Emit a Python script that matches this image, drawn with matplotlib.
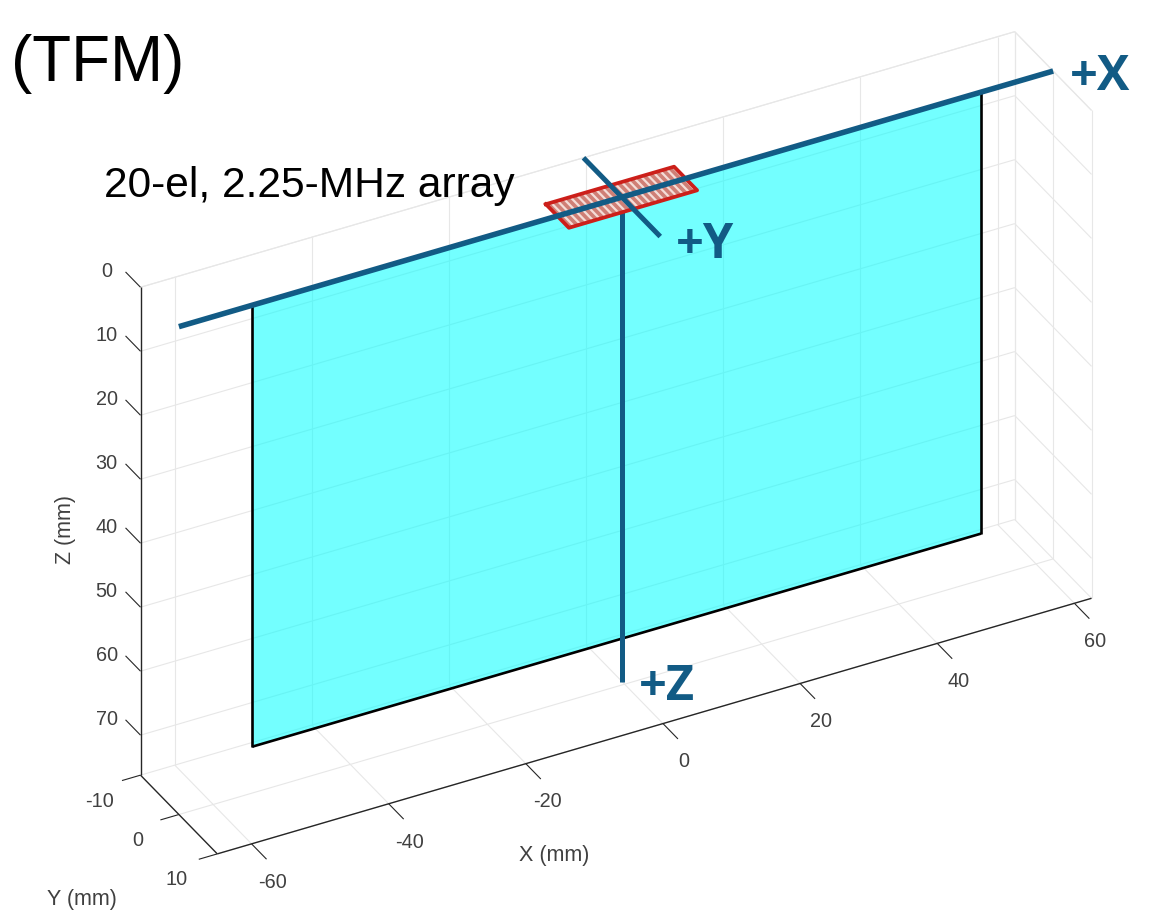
import numpy as np
import matplotlib
matplotlib.use('Agg')
import matplotlib.pyplot as plt
from mpl_toolkits.mplot3d import proj3d
from mpl_toolkits.mplot3d.art3d import Poly3DCollection

plt.rcParams['font.family'] = ['Liberation Sans', 'DejaVu Sans']

# axis limits and ticks (mm)
x_lim = [-65, 62.5]
y_lim = [-10, 10]
z_lim = [0, 76.25]
x_ticks = [-60, -40, -20, 0, 20, 40, 60]
y_ticks = [-10, 0, 10]
z_ticks = [0, 10, 20, 30, 40, 50, 60, 70]

# imaged plane
plane_x = [-54.3, 52]
plane_y = 0
plane_z = [0, 69]

# probe axes lines
center_x = -0.4
z_line_end = 75.8

# array footprint
n_elements = 20
array_x = [-9.8, 8.9]
array_y = [-3, 3]

grid_col = '#E7E7E7'
axis_col = '#262626'
tick_col = '#404040'
blue = '#125B85'

W, H = 1168, 910
fig = plt.figure(figsize=(W / 100, H / 100), dpi=100)

# orthographic view fitted to the box: sizes are in pixels along each axis
box = (991, 163, 583)
zoom = 0.8
side = 1127.4 / zoom
cx, cy = 616.0, 910 - 442.8
left = cx - 0.5135 * side
bottom = cy - 0.5135 * side
ax = fig.add_axes([left / W, bottom / H, side / W, side / H], projection='3d',
                  proj_type='ortho', computed_zorder=False)
ax.set_box_aspect(box, zoom=zoom)
ax.view_init(elev=33.2, azim=-118.1)
ax.set_axis_off()
ax.patch.set_alpha(0)
ax.set_xlim(x_lim)
ax.set_ylim(y_lim[1], y_lim[0])
ax.set_zlim(z_lim[1], z_lim[0])


def line3(xs, ys, zs, color, lw, zorder=1):
    ax.plot(xs, ys, zs, color=color, lw=lw, zorder=zorder, solid_capstyle='butt')


def label3(x, y, z, s):
    # project by hand so the tick label is plain 2D text
    px, py, _ = proj3d.proj_transform(x, y, z, ax.get_proj())
    ax.text2D(px, py, s, transform=ax.transData, color=tick_col, fontsize=14.3,
              ha='center', va='center')


# grid on back wall (y min)
for x in x_ticks + [x_lim[1]]:
    line3([x, x], [y_lim[0]] * 2, z_lim, grid_col, 0.8)
for z in z_ticks:
    line3(x_lim, [y_lim[0]] * 2, [z, z], grid_col, 0.8)
# grid on right wall (x max)
for y in y_ticks:
    line3([x_lim[1]] * 2, [y, y], z_lim, grid_col, 0.8)
for z in z_ticks:
    line3([x_lim[1]] * 2, y_lim, [z, z], grid_col, 0.8)
# grid on floor
for x in x_ticks + [x_lim[1]]:
    line3([x, x], y_lim, [z_lim[1]] * 2, grid_col, 0.8)
for y in y_ticks:
    line3(x_lim, [y, y], [z_lim[1]] * 2, grid_col, 0.8)
# top edges of the box
line3(x_lim, [y_lim[0]] * 2, [z_lim[0]] * 2, grid_col, 0.8)
line3([x_lim[1]] * 2, y_lim, [z_lim[0]] * 2, grid_col, 0.8)

# axes lines
line3([x_lim[0]] * 2, [y_lim[0]] * 2, z_lim, axis_col, 1.0, 2)
line3([x_lim[0]] * 2, y_lim, [z_lim[1]] * 2, axis_col, 1.0, 2)
line3(x_lim, [y_lim[1]] * 2, [z_lim[1]] * 2, axis_col, 1.0, 2)

# ticks
for x in x_ticks:
    line3([x, x], [y_lim[1], y_lim[1] + 3.9], [z_lim[1]] * 2, axis_col, 0.8, 2)
    label3(x, y_lim[1] + 5.5, z_lim[1] + 2.6, str(x))
for y in y_ticks:
    line3([x_lim[0], x_lim[0] - 2.7], [y, y], [z_lim[1]] * 2, axis_col, 0.8, 2)
    label3(x_lim[0] - 6.0, y, z_lim[1] + 2.2, str(y))
for z in z_ticks:
    line3([x_lim[0]] * 2, [y_lim[0], y_lim[0] - 3.9], [z, z], axis_col, 0.8, 2)
    label3(x_lim[0], y_lim[0] - 8.8, z + 2.9, str(z))

# cyan plane
plane = [[(plane_x[0], plane_y, plane_z[0]), (plane_x[1], plane_y, plane_z[0]),
          (plane_x[1], plane_y, plane_z[1]), (plane_x[0], plane_y, plane_z[1])]]
ax.add_collection3d(Poly3DCollection(plane, facecolors=[(0, 1, 1, 0.55)], edgecolors='none', zorder=3))
line3([plane_x[0]] * 2, [plane_y] * 2, plane_z, 'black', 1.9, 4)
line3([plane_x[1]] * 2, [plane_y] * 2, plane_z, 'black', 1.9, 4)
line3(plane_x, [plane_y] * 2, [plane_z[1]] * 2, 'black', 1.9, 4)
line3(plane_x, [plane_y] * 2, [plane_z[0]] * 2, 'black', 1.9, 4)

# +Z line sits under the array
line3([center_x] * 2, [plane_y] * 2, [0, z_line_end], blue, 3.6, 5)

# array elements with red outline
edges = np.linspace(array_x[0], array_x[1], n_elements + 1)
ax.add_collection3d(Poly3DCollection(
    [[(array_x[0], array_y[0], 0), (array_x[1], array_y[0], 0),
      (array_x[1], array_y[1], 0), (array_x[0], array_y[1], 0)]],
    facecolors=['#F4DDD8'], edgecolors='none', zorder=6))
pitch = edges[1] - edges[0]
elements = [[(e, array_y[0], 0), (e + 0.62 * pitch, array_y[0], 0),
             (e + 0.62 * pitch, array_y[1], 0), (e, array_y[1], 0)] for e in edges[:-1]]
ax.add_collection3d(Poly3DCollection(elements, facecolors=['#CF7F76'], edgecolors='none', zorder=7))
ax.plot([array_x[0], array_x[1], array_x[1], array_x[0], array_x[0]],
        [array_y[0], array_y[0], array_y[1], array_y[1], array_y[0]],
        [0, 0, 0, 0, 0], color='#CC1F1A', lw=2.7, zorder=8, solid_joinstyle='round')

# +X and +Y lines
line3(x_lim, [plane_y] * 2, [0, 0], blue, 4.0, 9)
line3([center_x] * 2, y_lim, [0, 0], blue, 3.6, 9)


def ftext(px, py, s, **kw):
    fig.text(px / W, 1 - py / H, s, ha='center', va='center', **kw)


bold_fam = ['Open Sans', 'DejaVu Sans']
ftext(98, 64, '(TFM)', fontsize=45.8, color='black')
ftext(309, 186, '20-el, 2.25-MHz array', fontsize=30.6, color='black')
ftext(1100, 78, '+X', fontsize=35, color=blue, fontweight='bold', family=bold_fam)
ftext(705, 246, '+Y', fontsize=35, color=blue, fontweight='bold', family=bold_fam)
ftext(667, 687, '+Z', fontsize=35, color=blue, fontweight='bold', family=bold_fam)
ftext(554, 856, 'X (mm)', fontsize=15.5, color=tick_col)
ftext(82, 899, 'Y (mm)', fontsize=15.5, color=tick_col)
ftext(66, 530, 'Z (mm)', fontsize=15.5, color=tick_col, rotation=90)

fig.savefig('out.png', dpi=100)
